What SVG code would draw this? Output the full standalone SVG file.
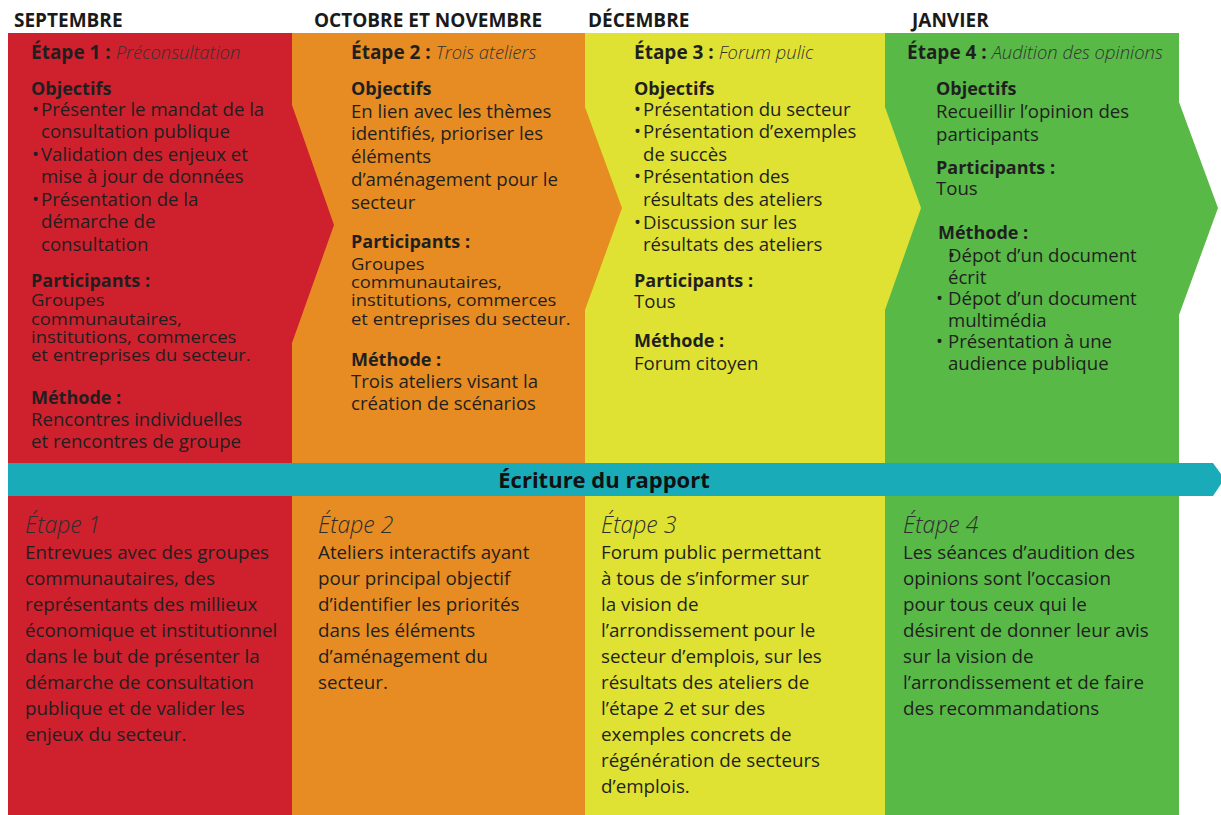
<svg xmlns="http://www.w3.org/2000/svg" width="1221" height="815" viewBox="0 0 1221 815">
  <style>
    text { font-family: "Open Sans", "Liberation Sans", sans-serif; fill: #1f1f1f; }
    .month { font-size: 19px; font-weight: 700; fill: #1a1a1a; }
    .title { font-size: 19px; font-weight: 700; }
    .sub { font-size: 18.4px; font-weight: 300; font-style: italic; fill: #333; }
    .head { font-size: 18px; font-weight: 700; }
    .body { font-size: 18.6px; }
    .small { font-size: 16.6px; transform-box: fill-box; transform-origin: 0 0; transform: scaleX(1.11); }
    .step { font-size: 23px; font-weight: 300; font-style: italic; fill: #2e2e2e; }
    .desc { font-size: 18.8px; }
    .banner { font-size: 22px; font-weight: 700; fill: #111; }
  </style>

  <rect width="1221" height="815" fill="#ffffff"/>

  <!-- month headings -->
  <g id="months">
    <text class="month" x="14" y="27">SEPTEMBRE</text>
    <text class="month" x="314" y="27">OCTOBRE ET NOVEMBRE</text>
    <text class="month" x="588" y="27">DÉCEMBRE</text>
    <text class="month" x="912" y="27">JANVIER</text>
  </g>

  <!-- stage 4 : green column with arrow tip on the right -->
  <g id="stage4">
    <polygon fill="#59b947" points="884,33 1179,33 1179,102 1218,208 1179,315 1179,815 884,815"/>
    <text x="907" y="59"><tspan class="title">Étape 4 : </tspan><tspan class="sub">Audition des opinions</tspan></text>
    <text class="head" x="936" y="95">Objectifs</text>
    <text class="body" x="936" y="118">Recueillir l’opinion des</text>
    <text class="body" x="936" y="141">participants</text>
    <text class="head" x="936" y="174">Participants :</text>
    <text class="body" x="936" y="195">Tous</text>
    <text class="head" x="938" y="239">Méthode :</text>
    <text class="body" x="948" y="262">•</text>
    <text class="body" x="948" y="262">Dépot d’un document</text>
    <text class="body" x="948" y="284">écrit</text>
    <text class="body" x="936" y="305">•</text>
    <text class="body" x="948" y="305">Dépot d’un document</text>
    <text class="body" x="948" y="327">multimédia</text>
    <text class="body" x="936" y="348">•</text>
    <text class="body" x="948" y="348">Présentation à une</text>
    <text class="body" x="948" y="370">audience publique</text>
    <text class="step" x="903" y="533">Étape 4</text>
    <text class="desc" x="903" y="559">Les séances d’audition des</text>
    <text class="desc" x="903" y="585">opinions sont l’occasion</text>
    <text class="desc" x="903" y="611">pour tous ceux qui le</text>
    <text class="desc" x="903" y="637">désirent de donner leur avis</text>
    <text class="desc" x="903" y="663">sur la vision de</text>
    <text class="desc" x="903" y="689">l’arrondissement et de faire</text>
    <text class="desc" x="903" y="715">des recommandations</text>
  </g>

  <!-- stage 3 : yellow column -->
  <g id="stage3">
    <polygon fill="#dfe232" points="585,33 885,33 885,107 921,208 885,310 885,815 585,815"/>
    <text x="634" y="59"><tspan class="title">Étape 3 : </tspan><tspan class="sub">Forum pulic</tspan></text>
    <text class="head" x="634" y="95">Objectifs</text>
    <text class="body" x="634" y="116">•</text>
    <text class="body" x="643" y="116">Présentation du secteur</text>
    <text class="body" x="634" y="138">•</text>
    <text class="body" x="643" y="138">Présentation d’exemples</text>
    <text class="body" x="643" y="161">de succès</text>
    <text class="body" x="634" y="183">•</text>
    <text class="body" x="643" y="183">Présentation des</text>
    <text class="body" x="643" y="206">résultats des ateliers</text>
    <text class="body" x="634" y="229">•</text>
    <text class="body" x="643" y="229">Discussion sur les</text>
    <text class="body" x="643" y="251">résultats des ateliers</text>
    <text class="head" x="634" y="287">Participants :</text>
    <text class="body" x="634" y="308">Tous</text>
    <text class="head" x="634" y="347">Méthode :</text>
    <text class="body" x="634" y="370">Forum citoyen</text>
    <text class="step" x="601" y="533">Étape 3</text>
    <text class="desc" x="601" y="559">Forum public permettant</text>
    <text class="desc" x="601" y="585">à tous de s’informer sur</text>
    <text class="desc" x="601" y="611">la vision de</text>
    <text class="desc" x="601" y="637">l’arrondissement pour le</text>
    <text class="desc" x="601" y="663">secteur d’emplois, sur les</text>
    <text class="desc" x="601" y="689">résultats des ateliers de</text>
    <text class="desc" x="601" y="715">l’étape 2 et sur des</text>
    <text class="desc" x="601" y="741">exemples concrets de</text>
    <text class="desc" x="601" y="767">régénération de secteurs</text>
    <text class="desc" x="601" y="793">d’emplois.</text>
  </g>

  <!-- stage 2 : orange column -->
  <g id="stage2">
    <polygon fill="#e68c22" points="292,33 585,33 585,107 622,208 585,310 585,815 292,815"/>
    <text x="351" y="59"><tspan class="title">Étape 2 : </tspan><tspan class="sub">Trois ateliers</tspan></text>
    <text class="head" x="351" y="95">Objectifs</text>
    <text class="body" x="351" y="118">En lien avec les thèmes</text>
    <text class="body" x="351" y="140">identifiés, prioriser les</text>
    <text class="body" x="351" y="163">éléments</text>
    <text class="body" x="351" y="186">d’aménagement pour le</text>
    <text class="body" x="351" y="209">secteur</text>
    <text class="head" x="351" y="248">Participants :</text>
    <text class="small" x="351" y="270">Groupes</text>
    <text class="small" x="351" y="288">communautaires,</text>
    <text class="small" x="351" y="306">institutions, commerces</text>
    <text class="small" x="351" y="325">et entreprises du secteur.</text>
    <text class="head" x="351" y="366">Méthode :</text>
    <text class="body" x="351" y="388">Trois ateliers visant la</text>
    <text class="body" x="351" y="410">création de scénarios</text>
    <text class="step" x="318" y="533">Étape 2</text>
    <text class="desc" x="318" y="559">Ateliers interactifs ayant</text>
    <text class="desc" x="318" y="585">pour principal objectif</text>
    <text class="desc" x="318" y="611">d’identifier les priorités</text>
    <text class="desc" x="318" y="637">dans les éléments</text>
    <text class="desc" x="318" y="663">d’aménagement du</text>
    <text class="desc" x="318" y="689">secteur.</text>
  </g>

  <!-- stage 1 : red column -->
  <g id="stage1">
    <polygon fill="#cf202e" points="8,33 292,33 292,105 334,225 292,343 292,815 8,815"/>
    <text x="31" y="59"><tspan class="title">Étape 1 : </tspan><tspan class="sub">Préconsultation</tspan></text>
    <text class="head" x="31" y="95">Objectifs</text>
    <text class="body" x="32" y="116">•</text>
    <text class="body" x="41" y="116">Présenter le mandat de la</text>
    <text class="body" x="41" y="138">consultation publique</text>
    <text class="body" x="32" y="161">•</text>
    <text class="body" x="41" y="161">Validation des enjeux et</text>
    <text class="body" x="41" y="183">mise à jour de données</text>
    <text class="body" x="32" y="206">•</text>
    <text class="body" x="41" y="206">Présentation de la</text>
    <text class="body" x="41" y="228">démarche de</text>
    <text class="body" x="41" y="251">consultation</text>
    <text class="head" x="31" y="287">Participants :</text>
    <text class="small" x="31" y="306">Groupes</text>
    <text class="small" x="31" y="325">communautaires,</text>
    <text class="small" x="31" y="343">institutions, commerces</text>
    <text class="small" x="31" y="361">et entreprises du secteur.</text>
    <text class="head" x="31" y="404">Méthode :</text>
    <text class="body" x="31" y="426">Rencontres individuelles</text>
    <text class="body" x="31" y="448">et rencontres de groupe</text>
    <text class="step" x="25" y="533">Étape 1</text>
    <text class="desc" x="25" y="559">Entrevues avec des groupes</text>
    <text class="desc" x="25" y="585">communautaires, des</text>
    <text class="desc" x="25" y="611">représentants des millieux</text>
    <text class="desc" x="25" y="637">économique et institutionnel</text>
    <text class="desc" x="25" y="663">dans le but de présenter la</text>
    <text class="desc" x="25" y="689">démarche de consultation</text>
    <text class="desc" x="25" y="715">publique et de valider les</text>
    <text class="desc" x="25" y="741">enjeux du secteur.</text>
  </g>

  <!-- report-writing band running across all stages -->
  <g id="report">
    <polygon fill="#1aabb9" points="8,463 1213,463 1221,474 1221,484 1213,496 8,496"/>
    <text class="banner" x="604" y="488" text-anchor="middle">Écriture du rapport</text>
  </g>
</svg>
